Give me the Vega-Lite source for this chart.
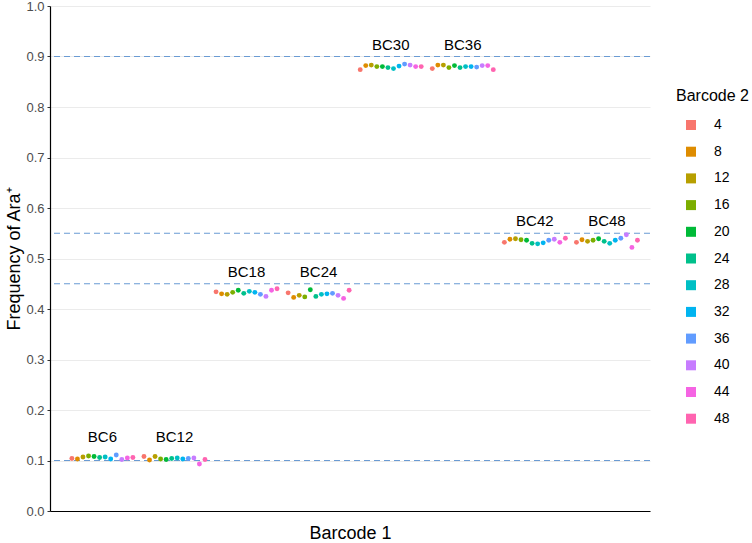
{
  "$schema": "https://vega.github.io/schema/vega-lite/v6.json",
  "width": 600,
  "height": 505,
  "autosize": {"type": "none"},
  "padding": {"left": 50, "top": 6, "right": 102, "bottom": 32},
  "background": "white",
  "config": {
    "font": "Liberation Sans",
    "view": {"stroke": null},
    "axis": {"labelFont": "Liberation Sans", "titleFont": "Liberation Sans", "titleFontWeight": "normal", "titleColor": "#000000"},
    "legend": {"labelFont": "Liberation Sans", "titleFont": "Liberation Sans"}
  },
  "datasets": {
    "pts": [
      {"b1":"BC6","b2":4,"f":0.104},{"b1":"BC6","b2":8,"f":0.103},{"b1":"BC6","b2":12,"f":0.107},{"b1":"BC6","b2":16,"f":0.109},{"b1":"BC6","b2":20,"f":0.108},{"b1":"BC6","b2":24,"f":0.106},{"b1":"BC6","b2":28,"f":0.107},{"b1":"BC6","b2":32,"f":0.103},{"b1":"BC6","b2":36,"f":0.111},{"b1":"BC6","b2":40,"f":0.102},{"b1":"BC6","b2":44,"f":0.105},{"b1":"BC6","b2":48,"f":0.106},
      {"b1":"BC12","b2":4,"f":0.108},{"b1":"BC12","b2":8,"f":0.101},{"b1":"BC12","b2":12,"f":0.108},{"b1":"BC12","b2":16,"f":0.103},{"b1":"BC12","b2":20,"f":0.102},{"b1":"BC12","b2":24,"f":0.104},{"b1":"BC12","b2":28,"f":0.105},{"b1":"BC12","b2":32,"f":0.103},{"b1":"BC12","b2":36,"f":0.104},{"b1":"BC12","b2":40,"f":0.105},{"b1":"BC12","b2":44,"f":0.093},{"b1":"BC12","b2":48,"f":0.102},
      {"b1":"BC18","b2":4,"f":0.434},{"b1":"BC18","b2":8,"f":0.430},{"b1":"BC18","b2":12,"f":0.429},{"b1":"BC18","b2":16,"f":0.433},{"b1":"BC18","b2":20,"f":0.437},{"b1":"BC18","b2":24,"f":0.431},{"b1":"BC18","b2":28,"f":0.435},{"b1":"BC18","b2":32,"f":0.433},{"b1":"BC18","b2":36,"f":0.429},{"b1":"BC18","b2":40,"f":0.425},{"b1":"BC18","b2":44,"f":0.437},{"b1":"BC18","b2":48,"f":0.440},
      {"b1":"BC24","b2":4,"f":0.432},{"b1":"BC24","b2":8,"f":0.423},{"b1":"BC24","b2":12,"f":0.427},{"b1":"BC24","b2":16,"f":0.424},{"b1":"BC24","b2":20,"f":0.438},{"b1":"BC24","b2":24,"f":0.425},{"b1":"BC24","b2":28,"f":0.429},{"b1":"BC24","b2":32,"f":0.430},{"b1":"BC24","b2":36,"f":0.431},{"b1":"BC24","b2":40,"f":0.427},{"b1":"BC24","b2":44,"f":0.421},{"b1":"BC24","b2":48,"f":0.437},
      {"b1":"BC30","b2":4,"f":0.874},{"b1":"BC30","b2":8,"f":0.882},{"b1":"BC30","b2":12,"f":0.883},{"b1":"BC30","b2":16,"f":0.880},{"b1":"BC30","b2":20,"f":0.880},{"b1":"BC30","b2":24,"f":0.878},{"b1":"BC30","b2":28,"f":0.876},{"b1":"BC30","b2":32,"f":0.881},{"b1":"BC30","b2":36,"f":0.885},{"b1":"BC30","b2":40,"f":0.883},{"b1":"BC30","b2":44,"f":0.880},{"b1":"BC30","b2":48,"f":0.880},
      {"b1":"BC36","b2":4,"f":0.876},{"b1":"BC36","b2":8,"f":0.883},{"b1":"BC36","b2":12,"f":0.883},{"b1":"BC36","b2":16,"f":0.878},{"b1":"BC36","b2":20,"f":0.882},{"b1":"BC36","b2":24,"f":0.878},{"b1":"BC36","b2":28,"f":0.880},{"b1":"BC36","b2":32,"f":0.880},{"b1":"BC36","b2":36,"f":0.879},{"b1":"BC36","b2":40,"f":0.882},{"b1":"BC36","b2":44,"f":0.882},{"b1":"BC36","b2":48,"f":0.874},
      {"b1":"BC42","b2":4,"f":0.532},{"b1":"BC42","b2":8,"f":0.538},{"b1":"BC42","b2":12,"f":0.539},{"b1":"BC42","b2":16,"f":0.537},{"b1":"BC42","b2":20,"f":0.536},{"b1":"BC42","b2":24,"f":0.530},{"b1":"BC42","b2":28,"f":0.529},{"b1":"BC42","b2":32,"f":0.531},{"b1":"BC42","b2":36,"f":0.536},{"b1":"BC42","b2":40,"f":0.538},{"b1":"BC42","b2":44,"f":0.532},{"b1":"BC42","b2":48,"f":0.540},
      {"b1":"BC48","b2":4,"f":0.532},{"b1":"BC48","b2":8,"f":0.537},{"b1":"BC48","b2":12,"f":0.534},{"b1":"BC48","b2":16,"f":0.536},{"b1":"BC48","b2":20,"f":0.539},{"b1":"BC48","b2":24,"f":0.534},{"b1":"BC48","b2":28,"f":0.530},{"b1":"BC48","b2":32,"f":0.536},{"b1":"BC48","b2":36,"f":0.540},{"b1":"BC48","b2":40,"f":0.547},{"b1":"BC48","b2":44,"f":0.522},{"b1":"BC48","b2":48,"f":0.536}
    ],
    "labels": [
      {"b1":"BC6","y":0.147},{"b1":"BC12","y":0.147},{"b1":"BC18","y":0.474},{"b1":"BC24","y":0.474},
      {"b1":"BC30","y":0.922},{"b1":"BC36","y":0.922},{"b1":"BC42","y":0.575},{"b1":"BC48","y":0.575}
    ],
    "refs": [{"y":0.1},{"y":0.45},{"y":0.55},{"y":0.9}]
  },
  "layer": [
    {
      "data": {"name": "refs"},
      "mark": {"type": "rule", "color": "#6a9bd3", "strokeDash": [6, 4], "strokeWidth": 1.2},
      "encoding": {
        "y": {"field": "y", "type": "quantitative", "scale": {"domain": [0, 1], "nice": false, "zero": true},
          "axis": {"values": [0,0.1,0.2,0.3,0.4,0.5,0.6,0.7,0.8,0.9,1.0], "format": ".1f", "title": "Frequency of Ara⁺",
            "titleFontSize": 18, "titlePadding": 2, "labelFontSize": 13, "labelColor": "#4d4d4d", "labelPadding": 3,
            "grid": true, "gridColor": "#ebebeb", "gridWidth": 1, "domainColor": "#000000", "domainWidth": 1.2,
            "tickColor": "#333333", "tickSize": 3}}
      }
    },
    {
      "data": {"name": "pts"},
      "mark": {"type": "circle", "size": 24, "opacity": 1},
      "encoding": {
        "x": {"field": "b1", "type": "nominal",
          "scale": {"domain": ["BC6","BC12","BC18","BC24","BC30","BC36","BC42","BC48"], "paddingInner": 0, "paddingOuter": 0.162, "align": 0.7},
          "axis": {"labels": false, "ticks": false, "title": "Barcode 1", "titleFontSize": 18, "titlePadding": 13, "domainColor": "#000000", "domainWidth": 1.2}},
        "xOffset": {"field": "b2", "type": "nominal",
          "scale": {"domain": [4,8,12,16,20,24,28,32,36,40,44,48], "paddingInner": 0, "paddingOuter": 1.85}},
        "y": {"field": "f", "type": "quantitative"},
        "color": {"field": "b2", "type": "nominal",
          "scale": {"domain": [4,8,12,16,20,24,28,32,36,40,44,48],
            "range": ["#F8766D","#DE8C00","#B79F00","#7CAE00","#00BA38","#00C08B","#00BFC4","#00B4F0","#619CFF","#C77CFF","#F564E3","#FF64B0"]},
          "legend": {"title": "Barcode 2", "orient": "none", "legendX": 626, "legendY": 82,
            "titleFontSize": 16, "titleFontWeight": "normal", "titleColor": "#000000", "titlePadding": 14,
            "labelFontSize": 14, "labelColor": "#000000", "labelOffset": 16,
            "symbolType": "square", "symbolSize": 100, "symbolOffset": 8, "symbolStrokeWidth": 0, "symbolOpacity": 1,
            "rowPadding": 12.7}}
      }
    },
    {
      "data": {"name": "labels"},
      "mark": {"type": "text", "fontSize": 15, "color": "#000000", "baseline": "middle", "align": "center"},
      "encoding": {
        "x": {"field": "b1", "type": "nominal"},
        "y": {"field": "y", "type": "quantitative"},
        "text": {"field": "b1", "type": "nominal"}
      }
    }
  ]
}
